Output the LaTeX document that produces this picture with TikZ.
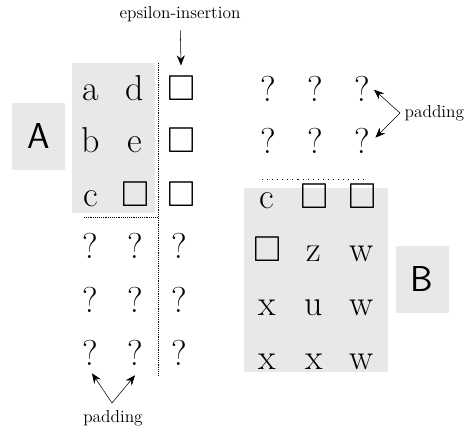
\documentclass[tikz,border=0pt]{standalone}
\usepackage{amsmath,amssymb}
\usepackage{tikz}
\usepackage{xcolor}
\usetikzlibrary{arrows.meta}
\definecolor{boxgray}{RGB}{232,232,232}

\begin{document}
\begin{tikzpicture}[x=0.75pt,y=-0.75pt,
  cell/.style={anchor=base,inner sep=0pt,font=\fontsize{27}{27}\selectfont},
  note/.style={font=\fontsize{13}{13}\selectfont},
  lab/.style={fill=boxgray,font=\sffamily\fontsize{27}{27}\selectfont,
    minimum width=39.75pt,minimum height=50pt},
  >={Stealth[length=7.5pt,width=6pt]}]
  \useasboundingbox (0,0) rectangle (472,432);

  % matrix A
  \fill[boxgray] (72,63) rectangle (155,213);
  \node[lab] (labA) at (38.5,136.5) {A};
  \node[cell] (a11) at (91,100) {a};
  \node[cell] (a12) at (135,100) {d};
  \node[cell] (a21) at (91,152) {b};
  \node[cell] (a22) at (135,152) {e};
  \node[cell] (a31) at (91,206) {c};
  \node[cell] (a32) at (135,206) {$\square$};
  \foreach \r/\y in {1/100,2/152,3/206}
    \node[cell] (e\r) at (181,\y) {$\square$};
  \foreach \r/\y in {1/258,2/312,3/365}
    \foreach \c/\x in {1/90,2/135,3/179}
      \node[cell] (q\r\c) at (\x,\y) {?};
  \draw[densely dotted] (158,63) -- (158,375);
  \draw[densely dotted] (84,217) -- (158,217);

  \node[note] (eps) at (180,14) {epsilon-insertion};
  \draw[->,shorten <=3pt] (eps) -- ([yshift=7.5pt]e1.north);

  \node[note] (pad1) at (113,418) {padding};
  \coordinate (pb) at (112,403);
  \draw[->] (pb) -- ([xshift=1.5pt,yshift=-6pt]q31.south);
  \draw[->] (pb) -- ([yshift=-7.5pt]q32.south);

  % matrix B
  \fill[boxgray] (244,188) rectangle (388,372);
  \node[lab] (labB) at (422,279.5) {B};
  \foreach \r/\y in {1/101,2/153}
    \foreach \c/\x in {1/268,2/315,3/362}
      \node[cell] (r\r\c) at (\x,\y) {?};
  \node[cell] (b11) at (267,208) {c};
  \node[cell] (b12) at (314,208) {$\square$};
  \node[cell] (b13) at (362,208) {$\square$};
  \node[cell] (b21) at (267,261) {$\square$};
  \node[cell] (b22) at (314,261) {z};
  \node[cell] (b23) at (362,261) {w};
  \node[cell] (b31) at (267,315) {x};
  \node[cell] (b32) at (314,315) {u};
  \node[cell] (b33) at (362,315) {w};
  \node[cell] (b41) at (267,369) {x};
  \node[cell] (b42) at (314,369) {x};
  \node[cell] (b43) at (362,369) {w};
  \draw[dash pattern=on 0.8pt off 3pt] (262,179) -- (367,179);

  \node[note,anchor=west] (pad2) at (400,113) {padding};
  \draw[->] (pad2.west) -- ([xshift=3pt,yshift=-1pt]r13.east);
  \draw[->] (pad2.west) -- ([xshift=4pt,yshift=2pt]r23.east);
\end{tikzpicture}
\end{document}
